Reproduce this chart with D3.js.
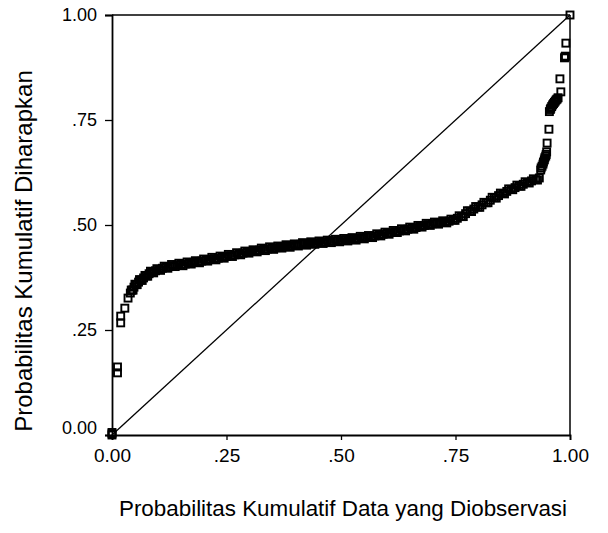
<!DOCTYPE html>
<html><head><meta charset="utf-8">
<script src="https://cdn.jsdelivr.net/npm/d3@7/dist/d3.min.js"></script>
<style>body{margin:0;background:#fff;} svg{display:block;}</style>
</head><body>
<svg id="c" width="608" height="533"></svg>
<script>
const xLabel = "Probabilitas Kumulatif Data yang Diobservasi";
const yLabel = "Probabilitas Kumulatif Diharapkan";
const tickValues = [0, 0.25, 0.5, 0.75, 1];
const tickLabels = ["0.00", ".25", ".50", ".75", "1.00"];
// observed cumulative probability (x)
const observed = [0,0,0,0.012,0.012,0.019,0.019,0.028,0.035,
0.040,0.044,0.048,0.053,0.058,0.063,0.069,0.075,0.081,0.088,0.095,0.102,0.110,0.118,0.126,0.134,0.142,0.151,0.160,0.169,0.178,0.187,0.196,0.205,0.214,0.223,0.232,0.241,0.250,0.259,0.268,0.277,0.286,0.295,0.304,0.313,0.322,0.331,0.340,0.349,0.358,0.367,0.376,0.385,0.394,0.403,0.412,0.421,0.430,0.439,0.448,0.457,0.466,0.475,0.484,0.493,0.502,0.511,0.520,0.529,0.538,0.547,0.556,0.565,0.574,0.583,0.592,0.601,0.610,0.619,0.628,0.637,0.646,0.655,0.664,0.673,0.682,0.691,0.700,0.709,0.718,0.727,0.736,0.745,0.754,0.763,0.772,0.781,0.790,0.799,0.808,0.817,0.826,0.835,0.844,0.853,0.862,0.871,0.880,0.889,0.898,0.907,0.916,0.925,0.933,
0.936,0.939,0.942,0.945,0.948,0.950,0.954,0.955,0.958,0.962,0.966,0.970,0.974,0.980,0.978,0.988,0.990,0.991,1.000];
// expected cumulative probability (y)
const expected = [0,0.003,0.006,0.148,0.162,0.267,0.283,0.302,0.326,
0.338,0.345,0.352,0.358,0.364,0.369,0.374,0.379,0.384,0.388,0.391,0.394,0.397,0.399,0.401,0.403,0.405,0.406,0.407,0.409,0.411,0.412,0.414,0.416,0.418,0.420,0.421,0.423,0.425,0.427,0.429,0.431,0.433,0.435,0.437,0.438,0.440,0.442,0.443,0.445,0.446,0.447,0.449,0.450,0.451,0.452,0.454,0.455,0.456,0.457,0.458,0.459,0.460,0.461,0.462,0.463,0.464,0.465,0.466,0.467,0.468,0.470,0.471,0.472,0.474,0.476,0.478,0.480,0.482,0.484,0.486,0.488,0.490,0.492,0.494,0.497,0.499,0.501,0.503,0.504,0.506,0.507,0.509,0.512,0.516,0.520,0.527,0.533,0.538,0.543,0.548,0.553,0.559,0.565,0.570,0.575,0.580,0.585,0.589,0.593,0.597,0.601,0.605,0.608,0.612,
0.631,0.640,0.650,0.660,0.668,0.695,0.728,0.770,0.778,0.786,0.792,0.798,0.803,0.817,0.848,0.898,0.902,0.933,1.000];
// further observations in the dense part of the band
const observed2 = [
0.042,0.046,0.050,0.055,0.060,0.066,0.072,0.078,0.084,0.091,
0.098,0.106,0.114,0.122,0.130,0.138,0.146,0.155,0.164,0.173,
0.182,0.191,0.200,0.209,0.218,0.227,0.236,0.245,0.254,0.263,
0.272,0.281,0.290,0.299,0.308,0.317,0.326,0.335,0.344,0.353,
0.362,0.371,0.380,0.389,0.398,0.407,0.416,0.425,0.434,0.443,
0.452,0.461,0.470,0.479,0.488,0.497,0.506,0.515,0.524,0.533,
0.542,0.551,0.560,0.569,0.578,0.587,0.596,0.605,0.614,0.623,
0.632,0.641,0.650,0.659,0.668,0.677,0.686,0.695,0.704,0.713,
0.722,0.731,0.740,0.749,0.758,0.767,0.776,0.785,0.794,0.803,
0.812,0.821,0.830,0.839,0.848,0.857,0.866,0.875,0.884,0.893,
0.902,0.911,0.920,0.929,
0.937,0.941,0.944,0.947,0.949,0.957,0.960,0.964,0.968,0.972,0.989];
const expected2 = [
0.345,0.345,0.359,0.358,0.370,0.368,0.380,0.378,0.390,0.386,
0.396,0.392,0.402,0.397,0.406,0.401,0.409,0.403,0.412,0.407,
0.415,0.410,0.419,0.414,0.423,0.417,0.426,0.421,0.430,0.425,
0.434,0.429,0.438,0.433,0.441,0.436,0.445,0.439,0.448,0.442,
0.450,0.445,0.453,0.447,0.455,0.450,0.458,0.452,0.460,0.454,
0.462,0.456,0.464,0.458,0.466,0.460,0.468,0.462,0.470,0.464,
0.473,0.467,0.475,0.470,0.479,0.474,0.483,0.478,0.487,0.482,
0.491,0.486,0.495,0.490,0.499,0.495,0.504,0.499,0.507,0.502,
0.510,0.505,0.514,0.511,0.522,0.520,0.534,0.532,0.544,0.542,
0.554,0.553,0.566,0.564,0.576,0.574,0.586,0.584,0.595,0.592,
0.603,0.600,0.610,0.607,
0.636,0.645,0.655,0.664,0.674,0.775,0.782,0.789,0.795,0.800,0.900];

const svg = d3.select("#c");
const L = 112, R = 570, T = 15, B = 435;
const x = d3.scaleLinear().domain([0,1]).range([L,R]);
const y = d3.scaleLinear().domain([0,1]).range([B,T]);
const fmt = d => tickLabels[tickValues.indexOf(d)];
const font = "Liberation Sans, Arial, sans-serif";

// frame top/right
svg.append("line").attr("x1",L).attr("x2",R).attr("y1",T).attr("y2",T).attr("stroke","#000").attr("stroke-width",1.5);
svg.append("line").attr("x1",R).attr("x2",R).attr("y1",T).attr("y2",B).attr("stroke","#000").attr("stroke-width",1.5);

const gx = svg.append("g").attr("transform",`translate(0,${B})`)
  .call(d3.axisBottom(x).tickValues(tickValues).tickFormat(fmt).tickSizeOuter(0).tickSize(5).tickPadding(9));
const gy = svg.append("g").attr("transform",`translate(${L},0)`)
  .call(d3.axisLeft(y).tickValues(tickValues).tickFormat(fmt).tickSizeOuter(0).tickSize(7).tickPadding(8));
[gx,gy].forEach(g=>{
  g.select(".domain").attr("stroke","#000").attr("stroke-width",1.8);
  g.selectAll(".tick line").attr("stroke","#000").attr("stroke-width",1.3);
  g.selectAll("text").attr("fill","#000").style("font-family",font).style("font-size","18px");
});
gy.selectAll(".tick").filter(d=>d===0).select("text").attr("dy","-0.1em");
gx.selectAll("text").style("font-size","19px");

// diagonal reference
svg.append("line").attr("x1",x(0)).attr("y1",y(0)).attr("x2",x(1)).attr("y2",y(1))
  .attr("stroke","#000").attr("stroke-width",1.3);

// points
const pts = observed.map((v,i)=>[v,expected[i]]).concat(observed2.map((v,i)=>[v,expected2[i]]));
const s = 7;
svg.append("g").selectAll("rect").data(pts).join("rect")
  .attr("x",d=>x(d[0])-s/2).attr("y",d=>y(d[1])-s/2).attr("width",s).attr("height",s)
  .attr("fill","none").attr("stroke","#000").attr("stroke-width",1.9);

svg.append("text").attr("x",343).attr("y",516).attr("text-anchor","middle")
  .style("font-family",font).style("font-size","22.4px").text(xLabel);
svg.append("text").attr("transform","translate(32,251) rotate(-90)").attr("text-anchor","middle")
  .style("font-family",font).style("font-size","24px").text(yLabel);
</script>
</body></html>
